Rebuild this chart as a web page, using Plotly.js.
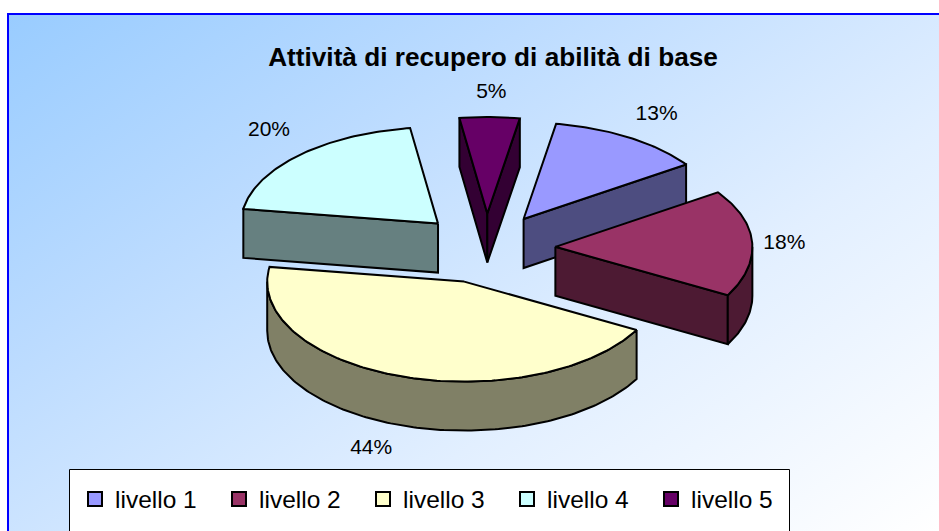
<!DOCTYPE html>
<html><head><meta charset="utf-8">
<script src="https://cdn.plot.ly/plotly-3.0.1.min.js"></script>
<style>
html,body{margin:0;padding:0;background:#fff;overflow:hidden}
#frame{position:absolute;box-sizing:border-box;left:7px;top:13px;width:932px;height:518px;border-left:2px solid #0000FF;border-top:2px solid #0000FF;background:linear-gradient(146deg,#99CCFF 0%,#BBDBFF 30%,#E2EFFF 65%,#FFFFFF 100%)}
#chart{position:absolute;left:0;top:0;width:939px;height:531px}
</style></head><body>
<div id="frame"></div><div id="chart"></div>
<script>
// Data (shares; labels show them rounded)
const categories = ['livello 1','livello 2','livello 3','livello 4','livello 5'];
const values = [12.8,17.6,44.4,20.3,4.9];
const chartTitle = 'Attività di recupero di abilità di base';
// Styles
const topColors = ['#9999FF','#993366','#FFFFCC','#CCFFFF','#660066'];
const wallColors = ['#4D4D80','#4D1A33','#808066','#668080','#330033'];
const drawOrder = [3,4,0,2,1];
// Projection of the exploded 3-D pie
const cx=486.5, cy=248.5, rx=197, ryBack=96.5, ryFront=100, depth=49, explode=0.35, startAngle=9.5;
const labelOffset = [[133,-104],[229,-3],[-93,167],[-169,-93],[4,-121]];
const rad = d => d*Math.PI/180;
const total = values.reduce((a,b)=>a+b,0);
const traces = [];
categories.forEach((c,i)=>traces.push({type:'scatter',mode:'markers',x:[null],y:[null],name:c,showlegend:true,
  marker:{symbol:'square',size:14,color:topColors[i],line:{color:'#000',width:2}},hoverinfo:'skip'}));
let a0=startAngle; const slices=[];
values.forEach((v,i)=>{
  const a=a0,b=a0+v/total*360; a0=b;
  const mid=(a+b)/2;
  const ax=cx+Math.sin(rad(mid))*rx*explode, ay=cy-Math.cos(rad(mid))*ryFront*explode;
  slices.push({i,a,b,ax,ay});
});
const px=(s,t)=>s.ax+Math.sin(rad(t))*rx;
const py=(s,t)=>{const c=Math.cos(rad(t));return s.ay-c*(c>0?ryBack:ryFront);};
function poly(xs,ys,color){traces.push({type:'scatter',mode:'lines',x:xs.concat(xs[0]),y:ys.concat(ys[0]),fill:'toself',fillcolor:color,
  line:{color:'#000',width:2,shape:'linear'},showlegend:false,hoverinfo:'skip'});}
drawOrder.forEach(k=>{
  const s=slices[k];
  const wall=t=>poly([s.ax,px(s,t),px(s,t),s.ax],[s.ay,py(s,t),py(s,t)+depth,s.ay+depth],wallColors[k]);
  if(Math.sin(rad(s.a))<0) wall(s.a);
  if(Math.sin(rad(s.b))>0) wall(s.b);
  const r0=Math.max(s.a,90), r1=Math.min(s.b,270);
  if(r1>r0){
    const xs=[],ys=[],bx=[],by=[];
    for(let t=r0;;t+=1){const u=Math.min(t,r1);xs.push(px(s,u));ys.push(py(s,u));bx.unshift(px(s,u));by.unshift(py(s,u)+depth);if(u>=r1)break;}
    poly(xs.concat(bx),ys.concat(by),wallColors[k]);
  }
  const xs=[s.ax],ys=[s.ay];
  for(let t=s.a;;t+=1){const u=Math.min(t,s.b);xs.push(px(s,u));ys.push(py(s,u));if(u>=s.b)break;}
  poly(xs,ys,topColors[k]);
});
traces.push({type:'scatter',mode:'text',x:slices.map((s,i)=>s.ax+labelOffset[i][0]),y:slices.map((s,i)=>s.ay+labelOffset[i][1]),
  text:values.map(v=>Math.round(v)+'%'),textposition:'middle center',textfont:{family:'Liberation Sans, Arial, sans-serif',size:21,color:'#000'},showlegend:false,hoverinfo:'skip',cliponaxis:false});
const layout={width:939,height:531,margin:{l:0,r:0,t:0,b:0},paper_bgcolor:'rgba(0,0,0,0)',plot_bgcolor:'rgba(0,0,0,0)',
  hovermode:false,dragmode:false,
  font:{family:'Liberation Sans, Arial, sans-serif',color:'#000'},
  title:{text:'<b>'+chartTitle+'</b>',font:{size:26.2,color:'#000'},xref:'paper',yref:'paper',x:493/939,y:1-57/531,xanchor:'center',yanchor:'middle'},
  xaxis:{visible:false,range:[0,939],fixedrange:true},
  yaxis:{visible:false,range:[531,0],fixedrange:true},
  shapes:[
    {type:'rect',xref:'x',yref:'y',x0:69.5,y0:469.5,x1:789.5,y1:560,line:{color:'#000',width:1},fillcolor:'#FFFFFF',layer:'below'}
  ],
  showlegend:true,
  legend:{orientation:'h',x:75/939,xanchor:'left',y:1-499/531,yanchor:'middle',bgcolor:'rgba(0,0,0,0)',borderwidth:0,
    entrywidth:99,entrywidthmode:'pixels',font:{size:24.5,color:'#000'},traceorder:'normal'}
};
Plotly.newPlot('chart',traces,layout,{staticPlot:true,displayModeBar:false});
</script></body></html>
